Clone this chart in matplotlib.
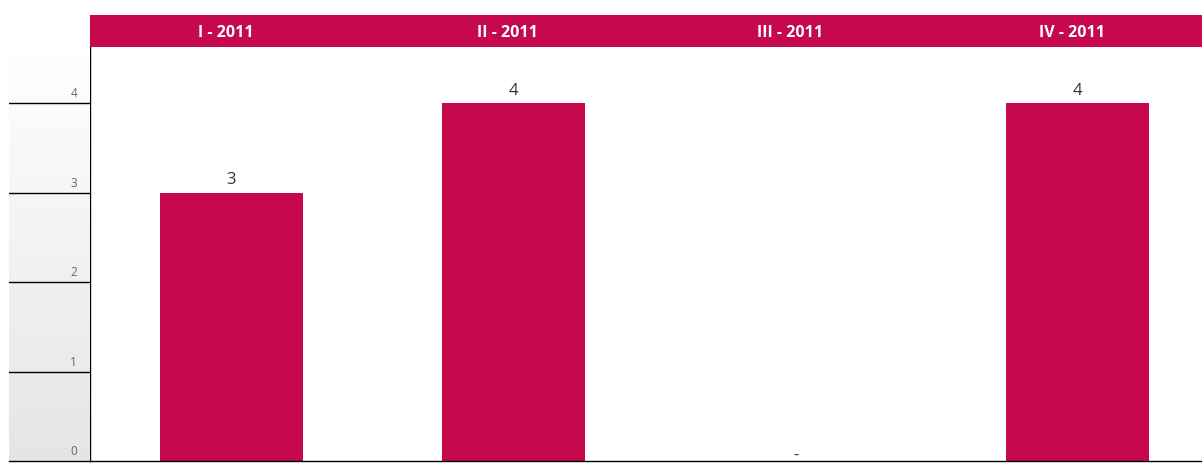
import numpy as np
import matplotlib.pyplot as plt
from matplotlib.colors import LinearSegmentedColormap

quarters = ['I - 2011', 'II - 2011', 'III - 2011', 'IV - 2011']
values = [3, 4, 0, 4]
labels = ['3', '4', '-', '4']
yticks = [0, 1, 2, 3, 4]

crimson = '#c6084e'
W, H = 1202, 464

fig = plt.figure(figsize=(W / 100, H / 100), dpi=100)
fig.patch.set_facecolor('white')

# main plot: extends past the right edge like the original crop
ax = fig.add_axes([90 / W, 2 / H, 1129 / W, 414 / H])
x = np.arange(len(quarters))
ax.bar(x, values, width=0.507, color=crimson)
ax.set_xlim(-0.5, 3.5)
ax.set_ylim(0, 414 / 89.5)
for xi, v, lab in zip(x, values, labels):
    off = 0.06 if lab != '-' else -0.02
    ax.text(xi, v + off, lab, ha='center', va='bottom', fontsize=12,
            color='#333333', fontfamily='Open Sans')
ax.set_xticks([])
ax.set_yticks([])
for s in ['top', 'right']:
    ax.spines[s].set_visible(False)
ax.spines['left'].set_linewidth(1.0)
ax.spines['bottom'].set_linewidth(1.0)

# header band
hx = fig.add_axes([90 / W, (H - 48) / H, 1129 / W, 32 / H], sharex=ax)
hx.set_facecolor(crimson)
for s in hx.spines.values():
    s.set_visible(False)
hx.tick_params(left=False, bottom=False, labelleft=False, labelbottom=False)
for xi, q in zip(x, quarters):
    hx.text(xi - 0.02, 0.47, q, ha='center', va='center', color='white',
            fontsize=11.5, fontweight='bold', fontfamily='Open Sans')

# left gradient panel with the scale
px = fig.add_axes([9 / W, 2 / H, 81 / W, 414 / H], sharey=ax)
grad = np.linspace(0, 1, 256).reshape(-1, 1)
cmap = LinearSegmentedColormap.from_list('g', ['#e4e5e7', '#ffffff'])
px.imshow(grad, aspect='auto', cmap=cmap, extent=[0, 1, 0, 4.6],
          origin='lower', zorder=0)
px.set_xlim(0, 1)
for v in yticks:
    if v > 0:
        px.axhline(v, color='black', lw=1.0)
    px.text(0.84, v + 0.04, str(v), ha='right', va='bottom', fontsize=8.5,
            color='#666666', fontfamily='Open Sans')
for s in ['top', 'right', 'left']:
    px.spines[s].set_visible(False)
px.spines['bottom'].set_linewidth(1.0)
px.tick_params(left=False, bottom=False, labelleft=False, labelbottom=False)
px.set_facecolor('white')

fig.savefig('out.png', dpi=100)
